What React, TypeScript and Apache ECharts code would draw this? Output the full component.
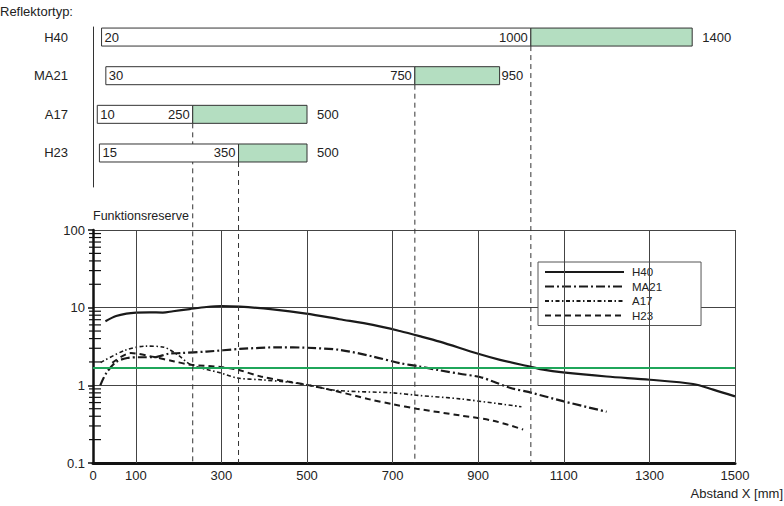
import React, { useEffect, useRef } from 'react';
import * as echarts from 'echarts';

const W = 784;
const H = 506;
const FONT = '"Liberation Sans", Arial, Helvetica, sans-serif';
const INK = '#222';

// ---- top chart: detection ranges per reflector type ----
const reflectorTypes = ['H40', 'MA21', 'A17', 'H23'];
const rangeStart = [20, 30, 10, 15];
const reserveStartLabel = ['1000', '750', '250', '350'];
const reserveStartDrawn = [1023, 752, 233, 340];
const rangeEnd = [1400, 950, 500, 500];
const endLabelPad = [10, 2, 10, 10];

// ---- lower chart: function reserve curves ----
const xTickLabels = [0, 100, 300, 500, 700, 900, 1100, 1300, 1500];
const xGridLines = [100, 300, 500, 700, 900, 1100, 1300, 1500];
const yMinorTicks = [
  0.2, 0.3, 0.4, 0.5, 0.6, 0.7, 0.8, 0.9,
  2, 3, 4, 5, 6, 7, 8, 9,
  20, 30, 40, 50, 60, 70, 80, 90,
];
const threshold = 1.7;

const h40 = [
  [29, 6.7], [54, 7.8], [78, 8.4], [101, 8.65], [132, 8.7], [163, 8.65], [187, 9.0],
  [226, 9.6], [265, 10.2], [300, 10.5], [343, 10.3], [420, 9.5], [498, 8.4], [576, 7.1],
  [654, 6.0], [717, 5.0], [763, 4.3], [810, 3.65], [900, 2.55], [951, 2.13], [1025, 1.72],
  [1052, 1.59], [1098, 1.47], [1200, 1.3], [1301, 1.18], [1402, 1.04], [1449, 0.88], [1500, 0.72],
];
const ma21 = [
  [17, 1.0], [31, 1.44], [54, 2.0], [80, 2.25], [112, 2.3], [143, 2.3], [176, 2.55],
  [205, 2.6], [265, 2.72], [343, 2.94], [436, 3.09], [498, 3.05], [576, 2.86], [654, 2.35],
  [717, 1.93], [763, 1.75], [810, 1.56], [857, 1.41], [904, 1.28], [935, 1.12], [974, 0.93],
  [1025, 0.8], [1098, 0.625], [1200, 0.457],
];
const a17 = [
  [18, 1.97], [73, 2.8], [123, 3.2], [166, 3.09], [198, 2.47], [229, 1.84], [299, 1.44],
  [338, 1.24], [392, 1.18], [455, 1.1], [498, 1.02], [569, 0.86], [701, 0.8], [756, 0.745],
  [857, 0.67], [1001, 0.53],
];
const h23 = [
  [45, 1.95], [88, 2.6], [143, 2.31], [190, 2.03], [229, 1.84], [299, 1.72], [338, 1.59],
  [392, 1.3], [455, 1.12], [498, 1.02], [569, 0.84], [646, 0.66], [701, 0.57], [756, 0.5],
  [857, 0.41], [935, 0.35], [1005, 0.27],
];

const TOP_GRID = { left: 93, right: 49, top: 27, height: 160 };
const LOW_GRID = { left: 93, right: 49, top: 230, bottom: 43 };
const LOW_BOTTOM_PX = H - LOW_GRID.bottom;
const CURVE = '#1a1a1a';

const lineSeries = (name: string, data: number[][], width: number, dash: any) => ({
  name,
  type: 'line',
  xAxisIndex: 1,
  yAxisIndex: 1,
  data,
  smooth: 0.3,
  symbol: 'none',
  silent: true,
  z: 3,
  color: CURVE,
  itemStyle: { color: CURVE },
  lineStyle: { color: CURVE, width, type: dash },
});

export default function App() {
  const ref = useRef<HTMLDivElement>(null);

  useEffect(() => {
    if (!ref.current) return;
    const chart = echarts.init(ref.current, null, { renderer: 'svg' });

    const option: any = {
      animation: false,
      backgroundColor: '#fff',
      textStyle: { fontFamily: FONT, color: INK },
      grid: [
        { ...TOP_GRID, containLabel: false },
        { ...LOW_GRID, containLabel: false },
      ],
      xAxis: [
        { type: 'value', gridIndex: 0, min: 0, max: 1500, show: false },
        {
          type: 'value',
          gridIndex: 1,
          min: 0,
          max: 1500,
          interval: 100,
          axisLine: { show: true, onZero: false, lineStyle: { color: '#111', width: 3 } },
          axisTick: { show: false },
          splitLine: { show: false },
          axisLabel: {
            show: true,
            margin: 6,
            fontSize: 13,
            color: INK,
            fontFamily: FONT,
            showMinLabel: true,
            showMaxLabel: true,
            formatter: (v: number) => (xTickLabels.indexOf(v) >= 0 ? String(v) : ''),
          },
        },
      ],
      yAxis: [
        {
          type: 'value',
          gridIndex: 0,
          min: -0.26,
          max: 3.88,
          inverse: true,
          axisLine: { show: true, lineStyle: { color: '#333', width: 1 } },
          axisTick: { show: false },
          axisLabel: { show: false },
          splitLine: { show: false },
        },
        {
          type: 'log',
          logBase: 10,
          gridIndex: 1,
          min: 0.1,
          max: 100,
          name: 'Funktionsreserve',
          nameLocation: 'end',
          nameGap: 8,
          nameTextStyle: { align: 'left', fontSize: 12.5, color: INK, fontFamily: FONT },
          axisLine: { show: true, onZero: false, lineStyle: { color: '#111', width: 2.5 } },
          axisTick: { show: true, length: 5, lineStyle: { color: '#111', width: 1.5 } },
          axisLabel: { fontSize: 13, margin: 8, color: INK, fontFamily: FONT },
          splitLine: { show: true, lineStyle: { color: '#444', width: 1 } },
        },
      ],
      legend: {
        data: ['H40', 'MA21', 'A17', 'H23'],
        orient: 'vertical',
        left: 538,
        top: 262,
        itemWidth: 79,
        itemHeight: 10,
        itemGap: 2.5,
        padding: [4, 39, 4, 6],
        backgroundColor: '#fff',
        borderColor: '#555',
        borderWidth: 1,
        selectedMode: false,
        itemStyle: { opacity: 0 },
        textStyle: { fontSize: 11.5, color: INK, fontFamily: FONT, padding: [0, 0, 0, 3] },
      },
      graphic: [
        {
          type: 'text',
          left: 0,
          top: 5,
          style: { text: 'Reflektortyp:', fontSize: 13, fontFamily: FONT, fill: INK },
        },
        {
          type: 'text',
          right: 1,
          top: 487,
          style: { text: 'Abstand X [mm]', fontSize: 13, fontFamily: FONT, fill: INK },
        },
      ],
      series: [
        {
          name: 'grid',
          type: 'line',
          xAxisIndex: 1,
          yAxisIndex: 1,
          data: [],
          z: 1,
          silent: true,
          markLine: {
            silent: true,
            symbol: 'none',
            label: { show: false },
            data: [
              ...xGridLines.map((x) => ({ xAxis: x, lineStyle: { color: '#444', width: 1, type: 'solid' } })),
              { yAxis: threshold, lineStyle: { color: '#1fa65a', width: 2, type: 'solid' } },
            ],
          },
        },
        {
          name: 'minorTicks',
          type: 'custom',
          xAxisIndex: 1,
          yAxisIndex: 1,
          silent: true,
          clip: false,
          z: 4,
          data: yMinorTicks.map((v) => [0, v]),
          renderItem: (params: any, api: any) => {
            const p = api.coord([0, api.value(1)]);
            return {
              type: 'line',
              shape: { x1: p[0] - 4, y1: p[1], x2: p[0] + 8, y2: p[1] },
              style: { stroke: '#111', lineWidth: 1.2 },
            };
          },
        },
        lineSeries('H40', h40, 2.2, 'solid'),
        lineSeries('MA21', ma21, 2.2, [9, 3, 2, 3]),
        lineSeries('A17', a17, 1.6, [4, 2.5, 1.5, 2.5]),
        lineSeries('H23', h23, 2, [6, 4]),
        {
          name: 'ranges',
          type: 'custom',
          xAxisIndex: 0,
          yAxisIndex: 0,
          silent: true,
          clip: false,
          z: 5,
          data: reflectorTypes.map((_, i) => [rangeStart[i], reserveStartDrawn[i], rangeEnd[i], i]),
          renderItem: (params: any, api: any) => {
            const idx = params.dataIndex;
            const row = api.value(3);
            const s = api.coord([api.value(0), row]);
            const b = api.coord([api.value(1), row]);
            const e = api.coord([api.value(2), row]);
            const bh = 18;
            const top = s[1] - bh / 2;
            const cs = params.coordSys;
            const txt = (text: string, x: number, align: string) => ({
              type: 'text',
              x,
              y: s[1],
              style: {
                text,
                fontSize: 13,
                fontFamily: FONT,
                fill: INK,
                align,
                verticalAlign: 'middle',
              },
            });
            return {
              type: 'group',
              children: [
                {
                  type: 'line',
                  shape: { x1: b[0], y1: top + bh, x2: b[0], y2: LOW_BOTTOM_PX },
                  style: { stroke: '#333', lineWidth: 1, lineDash: [5, 4] },
                },
                {
                  type: 'rect',
                  shape: { x: s[0], y: top, width: b[0] - s[0], height: bh },
                  style: { fill: '#fff', stroke: '#333', lineWidth: 1 },
                },
                {
                  type: 'rect',
                  shape: { x: b[0], y: top, width: e[0] - b[0], height: bh },
                  style: { fill: '#b4dec1', stroke: '#333', lineWidth: 1 },
                },
                txt(reflectorTypes[idx], cs.x - 25, 'right'),
                txt(String(rangeStart[idx]), s[0] + 3, 'left'),
                txt(reserveStartLabel[idx], b[0] - 3, 'right'),
                txt(String(rangeEnd[idx]), e[0] + endLabelPad[idx], 'left'),
              ],
            };
          },
        },
      ],
    };

    chart.setOption(option);
    return () => chart.dispose();
  }, []);

  return (
    <div
      ref={ref}
      style={{ position: 'absolute', left: 0, top: 0, width: W, height: H, background: '#fff' }}
    />
  );
}
